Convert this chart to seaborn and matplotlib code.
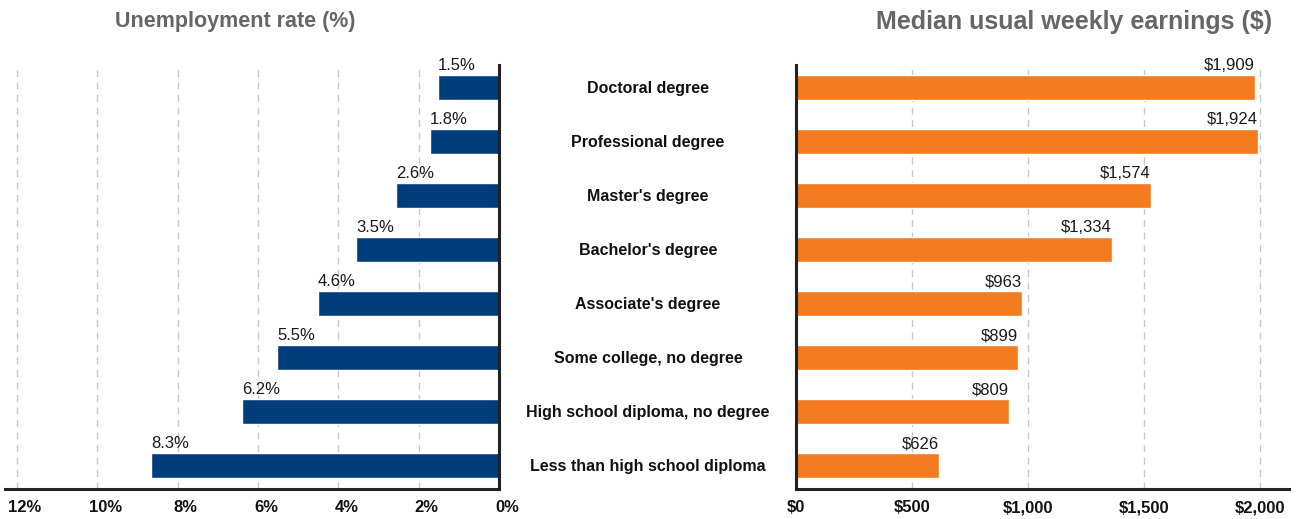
import matplotlib
matplotlib.use("Agg")
import matplotlib.pyplot as plt
import matplotlib.transforms as mtrans
import seaborn as sns

# data
education = ["Doctoral degree", "Professional degree", "Master's degree", "Bachelor's degree",
             "Associate's degree", "Some college, no degree", "High school diploma, no degree",
             "Less than high school diploma"]
unemp_bar = [1.53, 1.72, 2.57, 3.56, 4.51, 5.52, 6.39, 8.66]
unemp_text = ["1.5%", "1.8%", "2.6%", "3.5%", "4.6%", "5.5%", "6.2%", "8.3%"]
earn_bar = [1977, 1990, 1527, 1360, 972, 956, 918, 615]
earn_text = ["$1,909", "$1,924", "$1,574", "$1,334", "$963", "$899", "$809", "$626"]
unemp_ticks = [12, 10, 8, 6, 4, 2, 0]
unemp_ticklabels = ["12%", "10%", "8%", "6%", "4%", "2%", "0%"]
earn_ticks = [0, 500, 1000, 1500, 2000]
earn_ticklabels = ["$0", "$500", "$1,000", "$1,500", "$2,000"]

sns.set_style("white")
plt.rcParams['font.family'] = ['Liberation Sans', 'DejaVu Sans']

blue = "#003d7c"
orange = "#f47b20"

fig = plt.figure(figsize=(12.96, 5.19), dpi=100)
W, H = 1296, 519
ax1 = fig.add_axes([5 / W, (H - 489) / H, 494 / W, 424 / H])
ax2 = fig.add_axes([796 / W, (H - 489) / H, 493 / W, 424 / H])

sns.barplot(x=unemp_bar, y=education, orient="h", color=blue, width=0.46,
            saturation=1, ax=ax1)
sns.barplot(x=earn_bar, y=education, orient="h", color=orange, width=0.46,
            saturation=1, ax=ax2)

ylim = (7.44, -0.41)
for ax in (ax1, ax2):
    ax.set_ylim(*ylim)
    ax.set_xlabel("")
    ax.set_ylabel("")
    ax.grid(axis="x", color="#c8c8c8", linestyle=(0, (5, 4)), linewidth=1)
    ax.set_axisbelow(True)
    ax.tick_params(length=0)
    for s in ax.spines.values():
        s.set_visible(False)
    ax.spines["bottom"].set_visible(True)
    ax.spines["bottom"].set_linewidth(2.2)
    ax.spines["bottom"].set_color("#222222")

# left panel
ax1.set_xlim(12.3, 0)
ax1.set_xticks(unemp_ticks)
ax1.set_xticklabels(unemp_ticklabels, fontsize=12, fontweight="bold", color="#111111")
ax1.set_yticks([])
ax1.spines["right"].set_visible(True)
ax1.spines["right"].set_linewidth(2.2)
ax1.spines["right"].set_color("#222222")
ax1.tick_params(axis="x", pad=8)
shift = mtrans.ScaledTranslation(8 / 100, 0, fig.dpi_scale_trans)
for lab in ax1.get_xticklabels():
    lab.set_transform(lab.get_transform() + shift)
for i, (v, t) in enumerate(zip(unemp_bar, unemp_text)):
    ax1.text(v, i - 0.26, t, ha="left", va="bottom", fontsize=12, color="#1a1a1a")

# right panel
ax2.set_xlim(0, 2123)
ax2.set_xticks(earn_ticks)
ax2.set_xticklabels(earn_ticklabels, fontsize=12, fontweight="bold", color="#111111")
ax2.tick_params(axis="x", pad=8)
ax2.spines["left"].set_visible(True)
ax2.spines["left"].set_linewidth(2.2)
ax2.spines["left"].set_color("#222222")
ax2.set_yticks(range(len(education)))
ax2.set_yticklabels(education, fontsize=11.5, fontweight="bold", color="#111111")
for lab in ax2.get_yticklabels():
    lab.set_horizontalalignment("center")
ax2.tick_params(axis="y", pad=106.5)
for i, (v, t) in enumerate(zip(earn_bar, earn_text)):
    ax2.text(v, i - 0.26, t, ha="right", va="bottom", fontsize=12, color="#1a1a1a")

fig.text(235 / W, 1 - 22 / H, "Unemployment rate (%)", ha="center", va="center",
         fontsize=15.5, fontweight="bold", color="#666666")
fig.text(1074 / W, 1 - 22 / H, "Median usual weekly earnings ($)", ha="center", va="center",
         fontsize=18, fontweight="bold", color="#666666")

fig.savefig("out.png", dpi=100)
